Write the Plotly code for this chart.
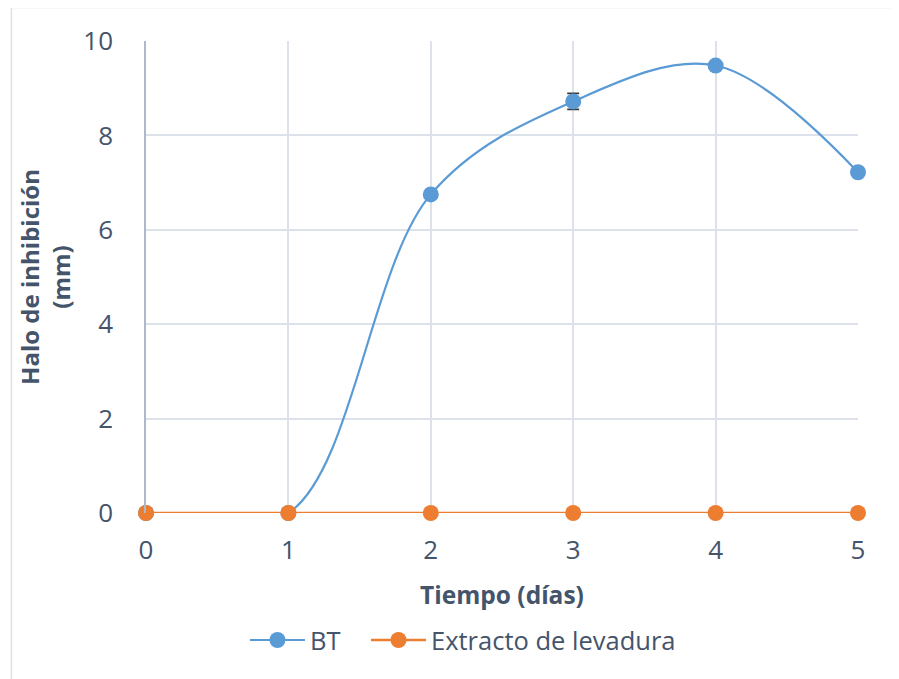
import plotly.graph_objects as go

dias = [0, 1, 2, 3, 4, 5]
bt = [0, 0, 6.75, 8.72, 9.48, 7.22]
bt_err = [0, 0, 0.05, 0.17, 0.05, 0.05]
extracto = [0, 0, 0, 0, 0, 0]
y_ticks = [0, 2, 4, 6, 8, 10]

TXT = "#44546A"
GRID = "#DDE2EA"
FONT = "Open Sans"

fig = go.Figure()
fig.add_trace(go.Scatter(
    x=dias, y=bt, name="BT", mode="lines+markers", cliponaxis=False, legend="legend",
    line=dict(color="#5B9BD5", width=2.2, shape="spline", smoothing=1.0),
    marker=dict(color="#5B9BD5", size=16),
    error_y=dict(type="data", array=bt_err, visible=True, color="#3A3A3A",
                 thickness=1.8, width=6),
))
fig.add_trace(go.Scatter(
    x=dias, y=extracto, name="Extracto de levadura", mode="lines+markers", cliponaxis=False,
    legend="legend2",
    line=dict(color="#ED7D31", width=2.5),
    marker=dict(color="#ED7D31", size=16),
))

leg = dict(orientation="h", xanchor="left", y=-0.27, yanchor="middle",
           font=dict(size=25.5, color=TXT), itemwidth=55, bgcolor="rgba(0,0,0,0)")

fig.update_layout(
    width=891, height=671,
    margin=dict(l=138, r=41, t=33, b=166),
    paper_bgcolor="white", plot_bgcolor="white",
    font=dict(family=FONT, color=TXT, size=26),
    showlegend=True,
    legend=dict(leg, x=0.139),
    legend2=dict(leg, x=0.309),
    xaxis=dict(range=[0, 5], tickvals=dias, showgrid=True, gridcolor=GRID, gridwidth=1.5,
               zeroline=False, showline=False, ticklabelstandoff=19,
               tickfont=dict(size=26, color=TXT),
               title=dict(text="<b>Tiempo (días)</b>", font=dict(size=24.5, color=TXT), standoff=20)),
    yaxis=dict(range=[0, 10], tickvals=y_ticks, showgrid=True, gridcolor=GRID, gridwidth=1.5,
               zeroline=False, showline=True, linecolor="#ADB9CA", linewidth=1.5,
               ticklabelstandoff=26, tickfont=dict(size=26, color=TXT),
               title=dict(text="<b>Halo de inhibición<br>(mm)</b>", font=dict(size=24, color=TXT),
                          standoff=6)),
)

fig.add_shape(type="rect", xref="paper", yref="paper",
              x0=-0.189, x1=1.3, y0=-0.6, y1=1.071,
              line=dict(color="#DCE1E8", width=1.5), fillcolor="rgba(0,0,0,0)", layer="below")

fig.write_html("out.html")
